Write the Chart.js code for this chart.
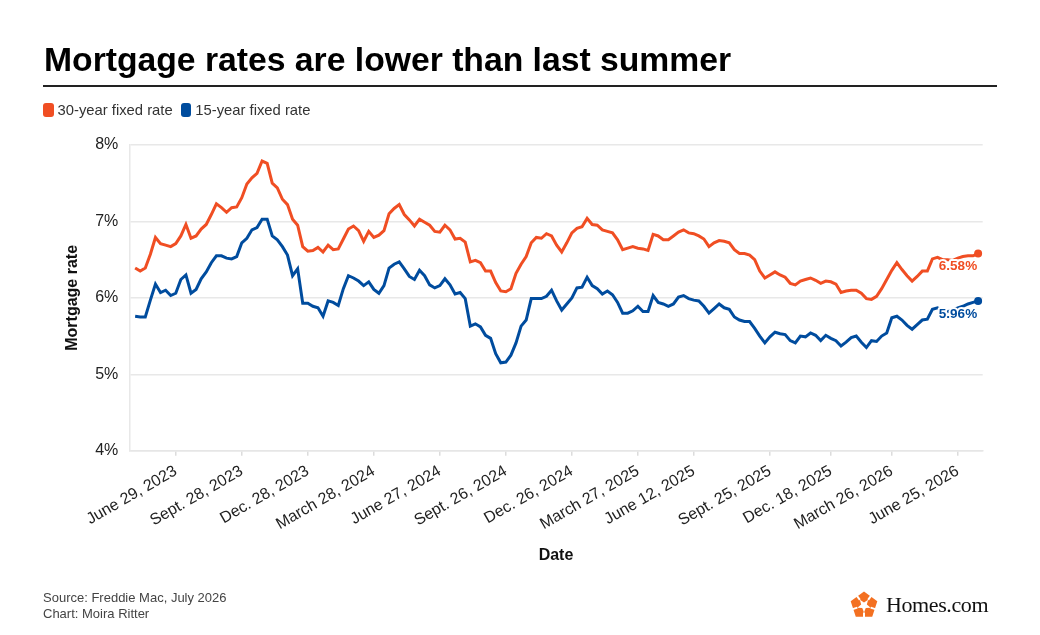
<!DOCTYPE html>
<html>
<head>
<meta charset="utf-8">
<title>Mortgage rates are lower than last summer</title>
<script src="https://cdn.jsdelivr.net/npm/chart.js@4.4.1/dist/chart.umd.min.js"></script>
<style>
  body { margin: 0; background: #fff; font-family: "Liberation Sans", Arial, sans-serif; }
  #page { position: relative; width: 1040px; height: 635px; overflow: hidden; }
  #chart { position: absolute; left: 0; top: 0; }
  h1 { position: absolute; left: 44px; top: 43px; margin: 0; font-size: 33.7px; line-height: 1; font-weight: bold; color: #000; white-space: nowrap; }
  .rule { position: absolute; left: 43px; top: 84.5px; width: 954px; height: 2px; background: #222; }
  .legend { position: absolute; left: 43px; top: 101px; font-size: 14.8px; color: #333; white-space: nowrap; line-height: 18px; }
  .legend span.sw { display: inline-block; width: 10.5px; height: 14px; border-radius: 3px; vertical-align: -2px; margin-right: 4px; }
  .legend span.item { margin-right: 4px; }
  .source { position: absolute; left: 43px; top: 590px; font-size: 13px; line-height: 15.5px; color: #444; }
  .logo { position: absolute; left: 849px; top: 590px; white-space: nowrap; }
  .logo svg { position: absolute; left: 0; top: 0; }
  .logo b { position: absolute; left: 37px; top: 2px; font-family: "Liberation Serif", "DejaVu Serif", serif; font-weight: normal; font-size: 22px; color: #111; letter-spacing: -0.4px; }
</style>
</head>
<body>
<div id="page">
  <canvas id="chart" width="1040" height="635"></canvas>
  <h1>Mortgage rates are lower than last summer</h1>
  <div class="rule"></div>
  <div class="legend">
    <span class="item"><span class="sw" style="background:#f04e23"></span>30-year fixed rate</span>
    <span class="item"><span class="sw" style="background:#004c9e"></span>15-year fixed rate</span>
  </div>
  <div class="source">Source: Freddie Mac, July 2026<br>Chart: Moira Ritter</div>
  <div class="logo">
    <svg width="30" height="30" viewBox="-15 -15.5 30 30">
      <path fill="#f37021" fill-rule="evenodd"
        d="M0,-14 L13.31,-4.33 L8.23,11.33 L-8.23,11.33 L-13.31,-4.33 Z
           M4.11,-5.66 L2.85,-0.93 L6.66,2.16 L1.76,2.43 L0,7 L-1.76,2.43 L-6.66,2.16 L-2.85,-0.93 L-4.11,-5.66 L0,-3 Z"/>
      <g stroke="#fff" stroke-width="2">
        <line x1="4.11" y1="-5.66" x2="8.5" y2="-11.7"/>
        <line x1="6.66" y1="2.16" x2="13.6" y2="4.4"/>
        <line x1="0" y1="7" x2="0" y2="14"/>
        <line x1="-6.66" y1="2.16" x2="-13.6" y2="4.4"/>
        <line x1="-4.11" y1="-5.66" x2="-8.5" y2="-11.7"/>
      </g>
    </svg>
    <b>Homes.com</b>
  </div>
</div>

<script>
// weekly Freddie Mac survey dates (one category per release)
var dates = [
  'May 4, 2023', 'May 11, 2023', 'May 18, 2023', 'May 25, 2023',
  'June 1, 2023', 'June 8, 2023', 'June 15, 2023', 'June 22, 2023', 'June 29, 2023',
  'July 6, 2023', 'July 13, 2023', 'July 20, 2023', 'July 27, 2023',
  'Aug. 3, 2023', 'Aug. 10, 2023', 'Aug. 17, 2023', 'Aug. 24, 2023', 'Aug. 31, 2023',
  'Sept. 7, 2023', 'Sept. 14, 2023', 'Sept. 21, 2023', 'Sept. 28, 2023',
  'Oct. 5, 2023', 'Oct. 12, 2023', 'Oct. 19, 2023', 'Oct. 26, 2023',
  'Nov. 2, 2023', 'Nov. 9, 2023', 'Nov. 16, 2023', 'Nov. 22, 2023', 'Nov. 30, 2023',
  'Dec. 7, 2023', 'Dec. 14, 2023', 'Dec. 21, 2023', 'Dec. 28, 2023',
  'Jan. 4, 2024', 'Jan. 11, 2024', 'Jan. 18, 2024', 'Jan. 25, 2024',
  'Feb. 1, 2024', 'Feb. 8, 2024', 'Feb. 15, 2024', 'Feb. 22, 2024', 'Feb. 29, 2024',
  'March 7, 2024', 'March 14, 2024', 'March 21, 2024', 'March 28, 2024',
  'April 4, 2024', 'April 11, 2024', 'April 18, 2024', 'April 25, 2024',
  'May 2, 2024', 'May 9, 2024', 'May 16, 2024', 'May 23, 2024', 'May 30, 2024',
  'June 6, 2024', 'June 13, 2024', 'June 20, 2024', 'June 27, 2024',
  'July 3, 2024', 'July 11, 2024', 'July 18, 2024', 'July 25, 2024',
  'Aug. 1, 2024', 'Aug. 8, 2024', 'Aug. 15, 2024', 'Aug. 22, 2024', 'Aug. 29, 2024',
  'Sept. 5, 2024', 'Sept. 12, 2024', 'Sept. 19, 2024', 'Sept. 26, 2024',
  'Oct. 3, 2024', 'Oct. 10, 2024', 'Oct. 17, 2024', 'Oct. 24, 2024', 'Oct. 31, 2024',
  'Nov. 7, 2024', 'Nov. 14, 2024', 'Nov. 21, 2024', 'Nov. 27, 2024',
  'Dec. 5, 2024', 'Dec. 12, 2024', 'Dec. 19, 2024', 'Dec. 26, 2024',
  'Jan. 2, 2025', 'Jan. 9, 2025', 'Jan. 16, 2025', 'Jan. 23, 2025', 'Jan. 30, 2025',
  'Feb. 6, 2025', 'Feb. 13, 2025', 'Feb. 20, 2025', 'Feb. 27, 2025',
  'March 6, 2025', 'March 13, 2025', 'March 20, 2025', 'March 27, 2025',
  'April 3, 2025', 'April 10, 2025', 'April 17, 2025', 'April 24, 2025',
  'May 1, 2025', 'May 8, 2025', 'May 15, 2025', 'May 22, 2025', 'May 29, 2025',
  'June 5, 2025', 'June 12, 2025', 'June 18, 2025', 'June 26, 2025',
  'July 3, 2025', 'July 10, 2025', 'July 17, 2025', 'July 24, 2025', 'July 31, 2025',
  'Aug. 7, 2025', 'Aug. 14, 2025', 'Aug. 21, 2025', 'Aug. 28, 2025',
  'Sept. 4, 2025', 'Sept. 11, 2025', 'Sept. 18, 2025', 'Sept. 25, 2025',
  'Oct. 2, 2025', 'Oct. 9, 2025', 'Oct. 16, 2025', 'Oct. 23, 2025', 'Oct. 30, 2025',
  'Nov. 6, 2025', 'Nov. 13, 2025', 'Nov. 20, 2025', 'Nov. 26, 2025',
  'Dec. 4, 2025', 'Dec. 11, 2025', 'Dec. 18, 2025', 'Dec. 24, 2025',
  'Jan. 15, 2026', 'Jan. 22, 2026', 'Jan. 29, 2026',
  'Feb. 5, 2026', 'Feb. 12, 2026', 'Feb. 19, 2026', 'Feb. 26, 2026',
  'March 5, 2026', 'March 12, 2026', 'March 19, 2026', 'March 26, 2026',
  'April 2, 2026', 'April 9, 2026', 'April 16, 2026', 'April 23, 2026', 'April 30, 2026',
  'May 7, 2026', 'May 14, 2026', 'May 21, 2026', 'May 28, 2026',
  'June 4, 2026', 'June 11, 2026', 'June 18, 2026', 'June 25, 2026',
  'July 2, 2026', 'July 9, 2026', 'July 16, 2026', 'July 23, 2026'
];

// dates that get a label on the x axis
var tickLabels = [
  'June 29, 2023', 'Sept. 28, 2023', 'Dec. 28, 2023', 'March 28, 2024',
  'June 27, 2024', 'Sept. 26, 2024', 'Dec. 26, 2024', 'March 27, 2025',
  'June 12, 2025', 'Sept. 25, 2025', 'Dec. 18, 2025', 'March 26, 2026',
  'June 25, 2026'
];

// 30-year fixed rate, %
var rate30 = [
  6.39, 6.35, 6.39, 6.57, 6.79, 6.71, 6.69, 6.67, 6.71, 6.81, 6.96, 6.78, 6.81, 6.90, 6.96, 7.09, 7.23, 7.18,
  7.12, 7.18, 7.19, 7.31, 7.49, 7.57, 7.63, 7.79, 7.76, 7.50, 7.44, 7.29, 7.22, 7.03, 6.95, 6.67, 6.61,
  6.62, 6.66, 6.60, 6.69, 6.63, 6.64, 6.77, 6.90, 6.94, 6.88, 6.74, 6.87, 6.79, 6.82, 6.88, 7.10, 7.17,
  7.22, 7.09, 7.02, 6.94, 7.03, 6.99, 6.95, 6.87, 6.86, 6.95, 6.89, 6.77, 6.78, 6.73, 6.47, 6.49, 6.46,
  6.35, 6.35, 6.20, 6.09, 6.08, 6.12, 6.32, 6.44, 6.54, 6.72, 6.79, 6.78, 6.84, 6.81, 6.69, 6.60, 6.72, 6.85,
  6.91, 6.93, 7.04, 6.96, 6.95, 6.89, 6.87, 6.85, 6.76, 6.63, 6.65, 6.67, 6.65, 6.64, 6.62, 6.83, 6.81,
  6.76, 6.76, 6.81, 6.86, 6.89, 6.85, 6.84, 6.81, 6.77, 6.67, 6.72, 6.75, 6.74, 6.72, 6.63, 6.58, 6.58,
  6.56, 6.50, 6.35, 6.26, 6.30, 6.34, 6.30, 6.27, 6.19, 6.17, 6.22, 6.24, 6.26, 6.23, 6.19, 6.22, 6.21,
  6.18, 6.07, 6.09, 6.10, 6.10, 6.06, 5.99, 5.98, 6.02, 6.12, 6.24, 6.36, 6.46, 6.37, 6.29, 6.22, 6.28,
  6.35, 6.35, 6.51, 6.53, 6.50, 6.50, 6.49, 6.52, 6.54, 6.55, 6.55, 6.58
];

// 15-year fixed rate, %
var rate15 = [
  5.76, 5.75, 5.75, 5.97, 6.18, 6.07, 6.10, 6.03, 6.06, 6.24, 6.30, 6.06, 6.11, 6.25, 6.34, 6.46, 6.55, 6.55,
  6.52, 6.51, 6.54, 6.72, 6.78, 6.89, 6.92, 7.03, 7.03, 6.81, 6.76, 6.67, 6.56, 6.29, 6.38, 5.93, 5.93,
  5.89, 5.87, 5.76, 5.96, 5.94, 5.90, 6.12, 6.29, 6.26, 6.22, 6.16, 6.21, 6.11, 6.06, 6.16, 6.39, 6.44,
  6.47, 6.38, 6.28, 6.24, 6.36, 6.29, 6.17, 6.13, 6.16, 6.25, 6.17, 6.05, 6.07, 5.99, 5.63, 5.66, 5.62,
  5.51, 5.47, 5.27, 5.15, 5.16, 5.25, 5.41, 5.63, 5.71, 5.99, 5.99, 5.99, 6.02, 6.10, 5.96, 5.84, 5.92, 6.00,
  6.13, 6.14, 6.27, 6.16, 6.12, 6.05, 6.09, 6.04, 5.94, 5.80, 5.80, 5.83, 5.89, 5.82, 5.82, 6.03, 5.94,
  5.92, 5.89, 5.92, 6.01, 6.03, 5.99, 5.97, 5.96, 5.89, 5.80, 5.86, 5.92, 5.87, 5.85, 5.75, 5.71, 5.69,
  5.69, 5.60, 5.50, 5.41, 5.49, 5.55, 5.53, 5.52, 5.44, 5.41, 5.50, 5.49, 5.54, 5.51, 5.44, 5.51, 5.47,
  5.44, 5.37, 5.42, 5.48, 5.50, 5.42, 5.35, 5.44, 5.43, 5.50, 5.54, 5.74, 5.76, 5.71, 5.64, 5.59, 5.65,
  5.71, 5.72, 5.85, 5.87, 5.83, 5.82, 5.84, 5.87, 5.89, 5.92, 5.94, 5.96
];

var RED = '#f04e23';
var BLUE = '#004c9e';
var FONT = '"Liberation Sans", Arial, sans-serif';

var tickIdx = tickLabels.map(function (d) { return dates.indexOf(d); });
var lastIdx = dates.length - 1;

function toPoints(values) {
    return values.map(function (v, i) { return { x: i, y: v }; });
}

Chart.defaults.font.family = FONT;

// value label under the last point of each line, with a white halo
var endLabels = {
    id: 'endLabels',
    afterDatasetsDraw: function (chart) {
        var c = chart.ctx;
        chart.data.datasets.forEach(function (ds, i) {
            var pts = chart.getDatasetMeta(i).data;
            var p = pts[pts.length - 1];
            var txt = ds.data[ds.data.length - 1].y.toFixed(2) + '%';
            c.save();
            c.font = 'bold 13.5px ' + FONT;
            c.textAlign = 'right';
            c.textBaseline = 'middle';
            c.lineJoin = 'round';
            c.lineWidth = 4;
            c.strokeStyle = '#fff';
            c.strokeText(txt, p.x - 1, p.y + 13);
            c.fillStyle = ds.borderColor;
            c.fillText(txt, p.x - 1, p.y + 13);
            c.restore();
        });
    }
};

function lineSet(label, values, color) {
    return {
        label: label,
        data: toPoints(values),
        borderColor: color,
        backgroundColor: color,
        borderWidth: 3,
        tension: 0,
        pointRadius: function (ctx) { return ctx.dataIndex === lastIdx ? 4 : 0; },
        pointBackgroundColor: color,
        pointBorderWidth: 0
    };
}

new Chart(document.getElementById('chart'), {
    type: 'line',
    data: {
        datasets: [
            lineSet('30-year fixed rate', rate30, RED),
            lineSet('15-year fixed rate', rate15, BLUE)
        ]
    },
    options: {
        responsive: false,
        animation: false,
        layout: { padding: { left: 39.3, right: 57.3, top: 145, bottom: 64.3 } },
        plugins: {
            legend: { display: false },
            tooltip: { enabled: false }
        },
        scales: {
            x: {
                type: 'linear',
                min: -1.15,
                max: 166.9,
                afterBuildTicks: function (axis) {
                    axis.ticks = tickIdx.map(function (v) { return { value: v }; });
                },
                afterFit: function (axis) { axis.height = 120; },
                ticks: {
                    autoSkip: false,
                    minRotation: 30,
                    maxRotation: 30,
                    padding: 6,
                    color: '#222',
                    font: { size: 16 },
                    callback: function (v) { return dates[v]; }
                },
                grid: { drawOnChartArea: false, tickLength: 5, color: '#dcdcdc', lineWidth: 1.5 },
                border: { color: '#e6e6e6', width: 1.5 },
                title: {
                    display: true,
                    text: 'Date',
                    color: '#111',
                    font: { size: 16, weight: 'bold' },
                    padding: { top: 0, bottom: 6 }
                }
            },
            y: {
                min: 4,
                max: 8,
                afterFit: function (axis) { axis.width = 90; },
                ticks: {
                    stepSize: 1,
                    padding: 11,
                    color: '#222',
                    font: { size: 16 },
                    callback: function (v) { return v + '%'; }
                },
                grid: { color: '#e8e8e8', lineWidth: 1.5, drawTicks: false },
                border: { display: true, color: '#e8e8e8', width: 1.5 },
                title: {
                    display: true,
                    text: 'Mortgage rate',
                    color: '#111',
                    font: { size: 16, weight: 'bold' },
                    padding: { top: 24, bottom: 0 }
                }
            }
        }
    },
    plugins: [endLabels]
});
</script>
</body>
</html>
